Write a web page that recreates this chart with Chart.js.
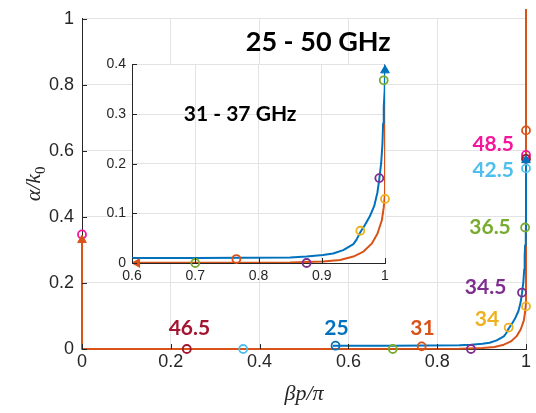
<!DOCTYPE html>
<html>
<head>
<meta charset="utf-8">
<script src="https://cdn.jsdelivr.net/npm/chart.js@4.4.0/dist/chart.umd.min.js"></script>
<style>
  html, body { margin: 0; padding: 0; background: #fff; }
  #wrap { position: relative; width: 536px; height: 413px; }
  #main { position: absolute; left: 0; top: 0; }
  #inset { position: absolute; left: 92px; top: 50px; }
</style>
</head>
<body>
<div id="wrap">
  <canvas id="main" width="536" height="413"></canvas>
  <canvas id="inset" width="305" height="240"></canvas>
</div>
<script>
// dispersion curves: beta*p/pi vs alpha/k0
const blueBeta  = [0.565, 0.7, 0.85, 0.876, 0.902, 0.918, 0.934, 0.950, 0.955, 0.961, 0.968, 0.976, 0.983, 0.988, 0.991, 0.994, 0.996, 0.997, 0.998, 0.9995, 1.0, 1.0];
const blueAlpha = [0.01, 0.01, 0.011, 0.013, 0.016, 0.019, 0.026, 0.038, 0.047, 0.062, 0.076, 0.094, 0.115, 0.142, 0.169, 0.202, 0.241, 0.281, 0.314, 0.348, 0.381, 0.572];
const orangeBeta  = [0, 0, 0.5, 0.85, 0.902, 0.929, 0.950, 0.966, 0.979, 0.988, 0.995, 0.998, 1.0, 1.0];
const orangeAlpha = [0.33, 0, 0, 0.001, 0.003, 0.006, 0.013, 0.023, 0.039, 0.059, 0.086, 0.112, 0.14, 1.03];

// frequency points (GHz)
const freqs      = ['25', '31', '34', '34.5', '36.5', '42.5', '46.5', '48.5'];
const freqColors = ['#0072BD', '#D95319', '#EDB120', '#7E2F8E', '#77AC30', '#4DBEEE', '#A2142F', '#F5169C'];
const freqBeta   = [[0.571], [0.765, 1.0], [0.961, 1.0], [0.876, 0.991], [0.70, 0.998], [0.363, 1.0], [0.236, 1.0], [0.0, 1.0]];
const freqAlpha  = [[0.01], [0.008, 0.662], [0.065, 0.129], [0.0, 0.171], [0.0, 0.368], [0.0, 0.547], [0.0, 0.576], [0.347, 0.588]];
// where each frequency label sits (data units of the main axes)
const freqLabelBeta  = [0.573, 0.767, 0.912, 0.909, 0.919, 0.926, 0.242, 0.926];
const freqLabelAlpha = [0.062, 0.062, 0.091, 0.188, 0.368, 0.541, 0.062, 0.621];

// inset arrowheads at the clipped ends
const insetArrowBeta  = [1.0, 0.608];
const insetArrowAlpha = [0.388, 0.0];

const mainTicks   = [0, 0.2, 0.4, 0.6, 0.8, 1];
const insetXTicks = [0.6, 0.7, 0.8, 0.9, 1];
const insetYTicks = [0, 0.1, 0.2, 0.3, 0.4];

const AXIS = '#262626';
const GRID = '#e3e3e3';

function pts(xs, ys) { return xs.map((v, i) => ({ x: v, y: ys[i] })); }

function textPlugin(items) {
  return {
    id: 'texts',
    afterDatasetsDraw(chart) {
      const { ctx, scales: { x, y } } = chart;
      ctx.save();
      ctx.textAlign = 'center';
      ctx.textBaseline = 'middle';
      items.forEach(t => {
        ctx.font = t.font;
        ctx.fillStyle = t.color;
        ctx.fillText(t.text, x.getPixelForValue(t.x), y.getPixelForValue(t.y));
      });
      ctx.restore();
    }
  };
}

// tick marks pointing into the plot, like matlab
const inTicks = {
  id: 'inTicks',
  afterDraw(chart) {
    const { ctx, chartArea: a, scales: { x, y } } = chart;
    ctx.save();
    ctx.strokeStyle = AXIS;
    ctx.lineWidth = 1;
    ctx.beginPath();
    x.ticks.forEach(t => {
      const px = Math.round(x.getPixelForValue(t.value)) + 0.5;
      ctx.moveTo(px, a.bottom); ctx.lineTo(px, a.bottom - 5);
    });
    y.ticks.forEach(t => {
      const py = Math.round(y.getPixelForValue(t.value)) + 0.5;
      ctx.moveTo(a.left, py); ctx.lineTo(a.left + 5, py);
    });
    ctx.stroke();
    ctx.restore();
  }
};

const whiteArea = {
  id: 'whiteArea',
  beforeDraw(chart) {
    const { ctx, chartArea: a } = chart;
    ctx.save();
    ctx.fillStyle = '#fff';
    ctx.fillRect(a.left, a.top, a.right - a.left, a.bottom - a.top);
    ctx.restore();
  }
};

const axisTitles = {
  id: 'axisTitles',
  afterDraw(chart) {
    const { ctx, chartArea: a } = chart;
    const serif = '"Liberation Serif", "Times New Roman", serif';
    ctx.save();
    ctx.fillStyle = AXIS;
    ctx.textBaseline = 'alphabetic';
    ctx.textAlign = 'left';
    // x title: beta p / pi
    ctx.font = 'italic 22px ' + serif;
    const xt = '\u03B2p/\u03C0';
    const xw = ctx.measureText(xt).width;
    ctx.fillText(xt, (a.left + a.right) / 2 - xw / 2, 400);
    // y title: alpha / k_0
    ctx.translate(40, (a.top + a.bottom) / 2);
    ctx.rotate(-Math.PI / 2);
    ctx.font = 'italic 22px ' + serif;
    const main = '\u03B1/k';
    const mw = ctx.measureText(main).width;
    ctx.font = '15px ' + serif;
    const sw = ctx.measureText('0').width;
    const x0 = -(mw + sw) / 2;
    ctx.font = 'italic 22px ' + serif;
    ctx.fillText(main, x0, 0);
    ctx.font = '15px ' + serif;
    ctx.fillText('0', x0 + mw, 5);
    ctx.restore();
  }
};

function scaleOpts(ticks, fontSize, pad, fit) {
  return {
    type: 'linear',
    min: ticks[0],
    max: ticks[ticks.length - 1],
    afterBuildTicks: s => { s.ticks = ticks.map(v => ({ value: v })); },
    afterFit: fit,
    grid: { color: GRID, drawTicks: false },
    border: { display: true, color: AXIS, width: 1 },
    ticks: {
      padding: pad,
      color: AXIS,
      font: { family: '"Liberation Sans", Arial, sans-serif', size: fontSize },
      callback: v => String(+v.toFixed(2))
    }
  };
}

function markerSets(filter) {
  return freqs.map((f, i) => ({
    label: f + ' GHz',
    data: pts(freqBeta[i], freqAlpha[i]).filter(filter),
    showLine: false,
    pointStyle: 'circle',
    pointRadius: 4,
    pointBorderWidth: 1.8,
    pointBorderColor: freqColors[i],
    pointBackgroundColor: 'rgba(0,0,0,0)',
    clip: false,
    order: 2
  }));
}

function curveSet(xs, ys, color, order, clip) {
  return {
    data: pts(xs, ys),
    showLine: true,
    borderColor: color,
    borderWidth: 2,
    borderJoinStyle: 'round',
    pointRadius: 0,
    tension: 0,
    clip: clip,
    order: order
  };
}

function arrowSet(p, color, rotation) {
  return {
    data: [p],
    showLine: false,
    pointStyle: 'triangle',
    pointRadius: 5,
    pointRotation: rotation,
    pointBackgroundColor: color,
    pointBorderColor: color,
    pointBorderWidth: 1,
    clip: false,
    order: 1
  };
}

const baseOptions = {
  responsive: false,
  animation: false,
  events: [],
  plugins: { legend: { display: false }, tooltip: { enabled: false } }
};

// main plot, 25 - 50 GHz
const mainLabels = [{ text: '25 - 50 GHz', x: 0.532, y: 0.929, color: '#000', font: 'bold 27px Lato' }]
  .concat(freqs.map((f, i) => ({
    text: f, x: freqLabelBeta[i], y: freqLabelAlpha[i], color: freqColors[i], font: 'bold 21px Lato'
  })));

new Chart(document.getElementById('main'), {
  type: 'scatter',
  data: {
    datasets: [
      curveSet(blueBeta, blueAlpha, '#0072BD', 3, { left: 3, top: 12, right: 3, bottom: 3 }),
      curveSet(orangeBeta, orangeAlpha, '#D95319', 4, { left: 3, top: 12, right: 3, bottom: 3 }),
      ...markerSets(() => true),
      arrowSet({ x: orangeBeta[0], y: orangeAlpha[0] }, '#D95319', 0),
      arrowSet({ x: blueBeta[blueBeta.length - 1], y: blueAlpha[blueAlpha.length - 1] }, '#0072BD', 0)
    ]
  },
  options: {
    ...baseOptions,
    layout: { padding: { left: 0, right: 10, top: 9, bottom: 0 } },
    scales: {
      x: scaleOpts(mainTicks, 18, 2, s => { s.height = 64; }),
      y: scaleOpts(mainTicks, 18, 8, s => { s.width = 82; })
    }
  },
  plugins: [textPlugin(mainLabels), inTicks, axisTitles]
});

// inset, 31 - 37 GHz
const insetLabels = [{ text: '31 - 37 GHz', x: 0.771, y: 0.30, color: '#000', font: 'bold 21px Lato' }];
const inInset = p => p.x >= insetXTicks[0] && p.y <= insetYTicks[insetYTicks.length - 1];

new Chart(document.getElementById('inset'), {
  type: 'scatter',
  data: {
    datasets: [
      curveSet(blueBeta, blueAlpha, '#0072BD', 3, 0),
      curveSet(orangeBeta, orangeAlpha, '#D95319', 4, 0),
      ...markerSets(inInset),
      arrowSet({ x: insetArrowBeta[0], y: insetArrowAlpha[0] }, '#0072BD', 0),
      arrowSet({ x: insetArrowBeta[1], y: insetArrowAlpha[1] }, '#D95319', 270)
    ]
  },
  options: {
    ...baseOptions,
    layout: { padding: { left: 0, right: 12, top: 12, bottom: 0 } },
    scales: {
      x: scaleOpts(insetXTicks, 14, 5, s => { s.height = 27; }),
      y: scaleOpts(insetYTicks, 14, 6, s => { s.width = 40; })
    }
  },
  plugins: [whiteArea, textPlugin(insetLabels), inTicks]
});
</script>
</body>
</html>
